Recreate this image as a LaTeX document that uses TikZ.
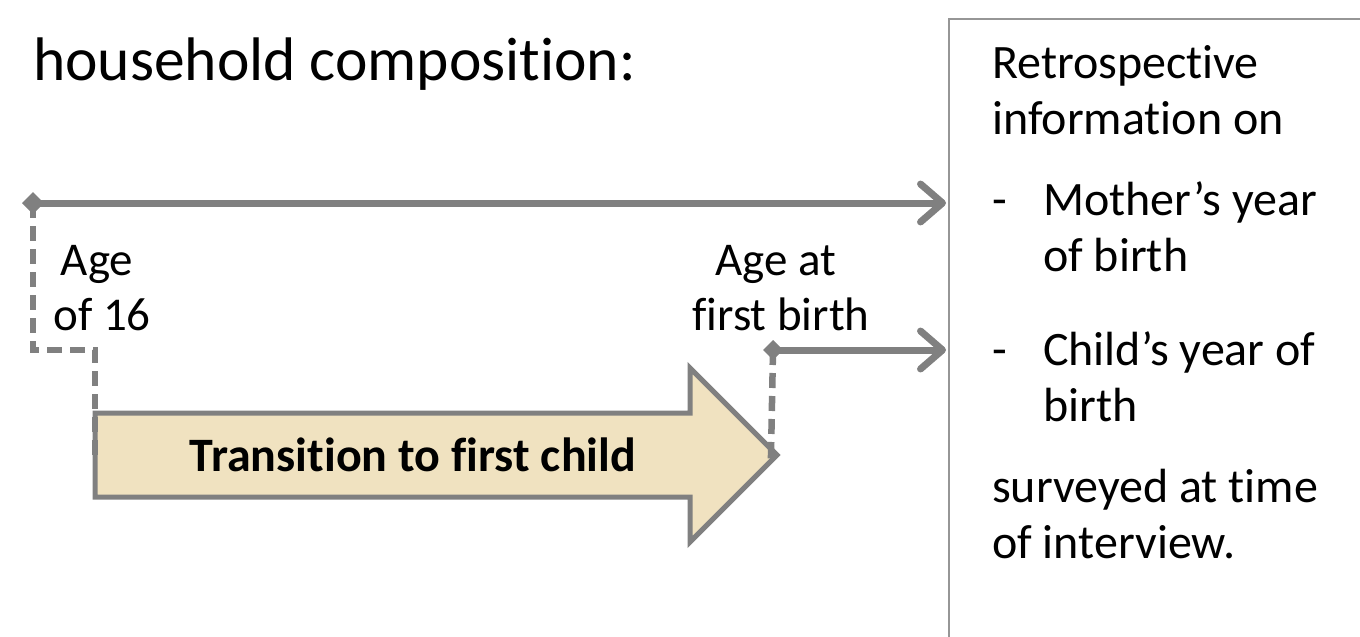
\documentclass[tikz,border=0pt]{standalone}
\usepackage{fontspec}
\setmainfont[Ligatures=CommonOff]{Carlito}
\usetikzlibrary{arrows.meta}
\definecolor{lgray}{RGB}{128,128,128}
\definecolor{bgray}{RGB}{150,150,150}
\definecolor{beige}{RGB}{240,226,192}
\tikzset{
  conn/.style={draw=lgray, line width=7pt, -{Straight Barb[length=22pt,width=38pt,round]}},
  dconn/.style={draw=lgray, line width=6.5pt, dash pattern=on 15pt off 8pt},
  body/.style={font=\fontsize{48pt}{55pt}\selectfont, inner sep=0pt},
  lbl/.style={font=\fontsize{47pt}{55pt}\selectfont, inner sep=0pt},
}
\begin{document}
\begin{tikzpicture}[x=1pt,y=-1pt]
\useasboundingbox (0,0) rectangle (1360,637);
% right box
\draw[bgray, line width=2.5pt] (949,650) -- (949,19) -- (1370,19);
\coordinate (boxA) at (946,203);
\coordinate (boxB) at (946,350);
% title
\node[anchor=base west, inner sep=0pt, font=\fontsize{61.5pt}{70pt}\selectfont] (title) at (33,80) {household composition:};
% big arrow
\draw[lgray, line width=5pt, fill=beige, line join=miter]
  (95,413) -- (690,413) -- (690,368) -- (777,455) -- (690,542) -- (690,497) -- (95,497) -- cycle;
\coordinate (tip) at (777,455);
\node[anchor=base, inner sep=0pt, font=\fontsize{48pt}{55pt}\selectfont\bfseries] (trans) at (413,471) {Transition to first child};
% start points
\coordinate (s1) at (33,203);
\coordinate (s2) at (773,350);
\draw[dconn] (s1) -- (33,350) -- (95,350) -- (95,455);
\draw[dconn] (s2) -- (771,455) -- (tip);
\draw[conn] (s1) -- (boxA);
\draw[conn] (s2) -- (boxB);
\fill[lgray] (s1) +(-11,0) -- +(0,-11) -- +(11,0) -- +(0,11) -- cycle;
\fill[lgray] (s2) +(-10,0) -- +(0,-10) -- +(10,0) -- +(0,10) -- cycle;
% labels
\node[lbl, anchor=base] (age) at (97,275) {Age};
\node[lbl, anchor=base] (of16) at (102,330) {of 16};
\node[lbl, anchor=base] (ageat) at (776,275) {Age at};
\node[lbl, anchor=base] (fb) at (781,330) {first birth};
% box text
\node[body, anchor=base west] (r1) at (992,78) {Retrospective};
\node[body, anchor=base west] (r2) at (992,134) {information on};
\node[body, anchor=base west] (r3) at (992,215) {-};
\node[body, anchor=base west] (r3b) at (1043,215) {Mother’s year};
\node[body, anchor=base west] (r4) at (1043,271) {of birth};
\node[body, anchor=base west] (r5) at (992,365) {-};
\node[body, anchor=base west] (r5b) at (1043,365) {Child’s year of};
\node[body, anchor=base west] (r6) at (1043,421) {birth};
\node[body, anchor=base west] (r7) at (992,502) {surveyed at time};
\node[body, anchor=base west] (r8) at (992,558) {of interview.};
\end{tikzpicture}
\end{document}
